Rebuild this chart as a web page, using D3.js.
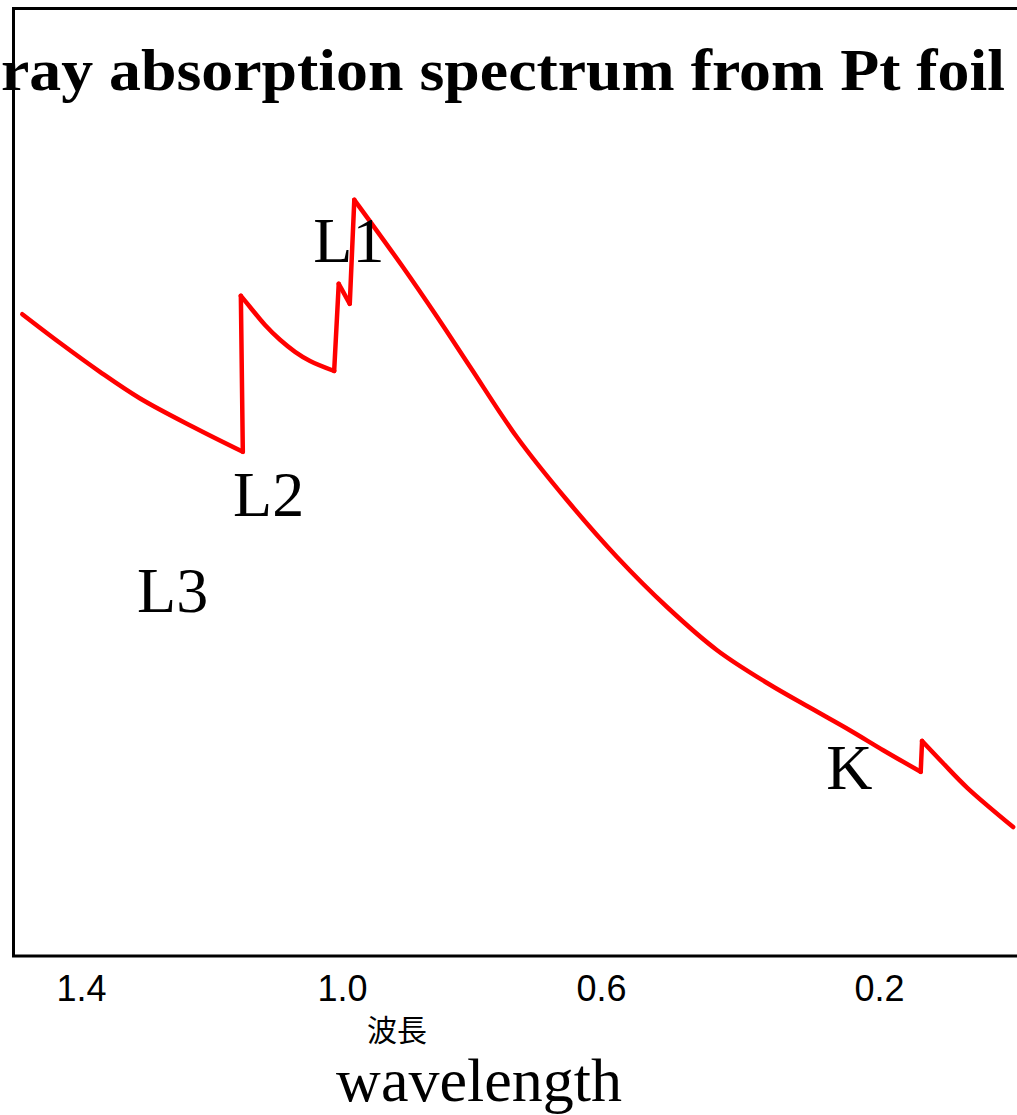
<!DOCTYPE html>
<html>
<head>
<meta charset="utf-8">
<script src="https://cdn.jsdelivr.net/npm/d3@7"></script>
<style>
  html, body { margin: 0; padding: 0; background: #fff; }
  svg { display: block; }
</style>
</head>
<body>
<svg id="chart" width="1017" height="1115"></svg>
<script>
// Wavelength (arbitrary units, decreasing to the right) and absorption (arbitrary units)
const wavelength = [1.490, 1.432, 1.371, 1.310, 1.228, 1.152,
                    1.155, 1.141, 1.118, 1.095, 1.072, 1.049, 1.012,
                    1.005, 0.988, 0.981,
                    0.906, 0.853, 0.802, 0.730, 0.653, 0.577, 0.505, 0.433, 0.361, 0.299, 0.242, 0.194, 0.140,
                    0.138, 0.108, 0.073, 0.007];
const absorption = [80.1, 76.5, 72.9, 69.6, 66.0, 62.9,
                    82.4, 81.0, 78.75, 76.9, 75.4, 74.25, 73.0,
                    83.9, 81.4, 94.4,
                    86.0, 79.75, 73.5, 64.75, 56.9, 49.75, 43.5, 38.1, 34.0, 30.9, 28.1, 25.6, 22.9,
                    26.75, 24.0, 20.9, 16.0];

const tickValues = [1.4, 1.0, 0.6, 0.2];

// Edge labels and where they sit (wavelength, absorption)
const edgeNames = ["L1", "L2", "L3", "K"];
const edgeLabelX = [1.044, 1.167, 1.314, 0.276];
const edgeLabelY = [86.6, 54.9, 42.9, 20.75];

const titleText = "ray absorption spectrum from Pt foil";
const axisLabelJa = "波長";
const axisLabelEn = "wavelength";

const svg = d3.select("#chart");

const x = d3.scaleLinear()
  .domain(tickValues)
  .range([81, 342, 601, 879]);

const y = d3.scaleLinear()
  .domain([0, 100])
  .range([955, 155]);

// Plot frame (runs off the right edge)
svg.append("rect")
  .attr("x", 13.5).attr("y", 8.5)
  .attr("width", 1100).attr("height", 947.5)
  .attr("fill", "none")
  .attr("stroke", "#000")
  .attr("stroke-width", 3);

// Title
svg.append("text")
  .attr("x", 1).attr("y", 90)
  .attr("font-family", "'Liberation Serif', 'Times New Roman', serif")
  .attr("font-weight", "bold")
  .attr("font-size", 60)
  .attr("textLength", 1004)
  .attr("lengthAdjust", "spacingAndGlyphs")
  .text(titleText);

// Bottom axis: labels only
const axis = d3.axisBottom(x).tickValues(tickValues).tickSize(0).tickFormat(d3.format(".1f"));
const gAxis = svg.append("g").attr("transform", "translate(0,1001)").call(axis);
gAxis.select(".domain").remove();
gAxis.selectAll("text")
  .attr("y", 0).attr("dy", null)
  .attr("fill", "#000")
  .attr("font-family", "'Liberation Sans', Arial, sans-serif")
  .attr("font-size", 36);

// Absorption curve: smooth between edges, straight jumps at each absorption edge
const pts = wavelength.map((w, i) => [w, absorption[i]]);
const runs = [[pts[0]]];
const jumps = [];
for (let i = 1; i < pts.length; i++) {
  if (pts[i][1] > pts[i - 1][1]) {
    jumps.push([pts[i - 1], pts[i]]);
    runs.push([pts[i]]);
  } else {
    runs[runs.length - 1].push(pts[i]);
  }
}
const smooth = d3.line().curve(d3.curveCatmullRom.alpha(0.5)).x(d => x(d[0])).y(d => y(d[1]));
const straight = d3.line().x(d => x(d[0])).y(d => y(d[1]));

const gCurve = svg.append("g")
  .attr("fill", "none")
  .attr("stroke", "#ff0000")
  .attr("stroke-width", 4.5)
  .attr("stroke-linejoin", "round")
  .attr("stroke-linecap", "round");
gCurve.selectAll("path.run").data(runs).join("path").attr("class", "run").attr("d", smooth);
gCurve.selectAll("path.jump").data(jumps).join("path").attr("class", "jump").attr("d", straight);

// Edge labels
svg.selectAll("text.edge")
  .data(edgeNames)
  .join("text")
  .attr("class", "edge")
  .attr("x", (d, i) => x(edgeLabelX[i]))
  .attr("y", (d, i) => y(edgeLabelY[i]))
  .attr("font-family", "'Liberation Serif', 'Times New Roman', serif")
  .attr("font-size", 64)
  .attr("fill", "#000")
  .text(d => d);

// Axis titles
svg.append("text")
  .attr("x", 397).attr("y", 1041)
  .attr("text-anchor", "middle")
  .attr("font-family", "'Noto Sans CJK JP', sans-serif")
  .attr("font-size", 30)
  .text(axisLabelJa);

svg.append("text")
  .attr("x", 479).attr("y", 1101)
  .attr("text-anchor", "middle")
  .attr("font-family", "'Liberation Serif', 'Times New Roman', serif")
  .attr("font-size", 62)
  .text(axisLabelEn);
</script>
</body>
</html>
